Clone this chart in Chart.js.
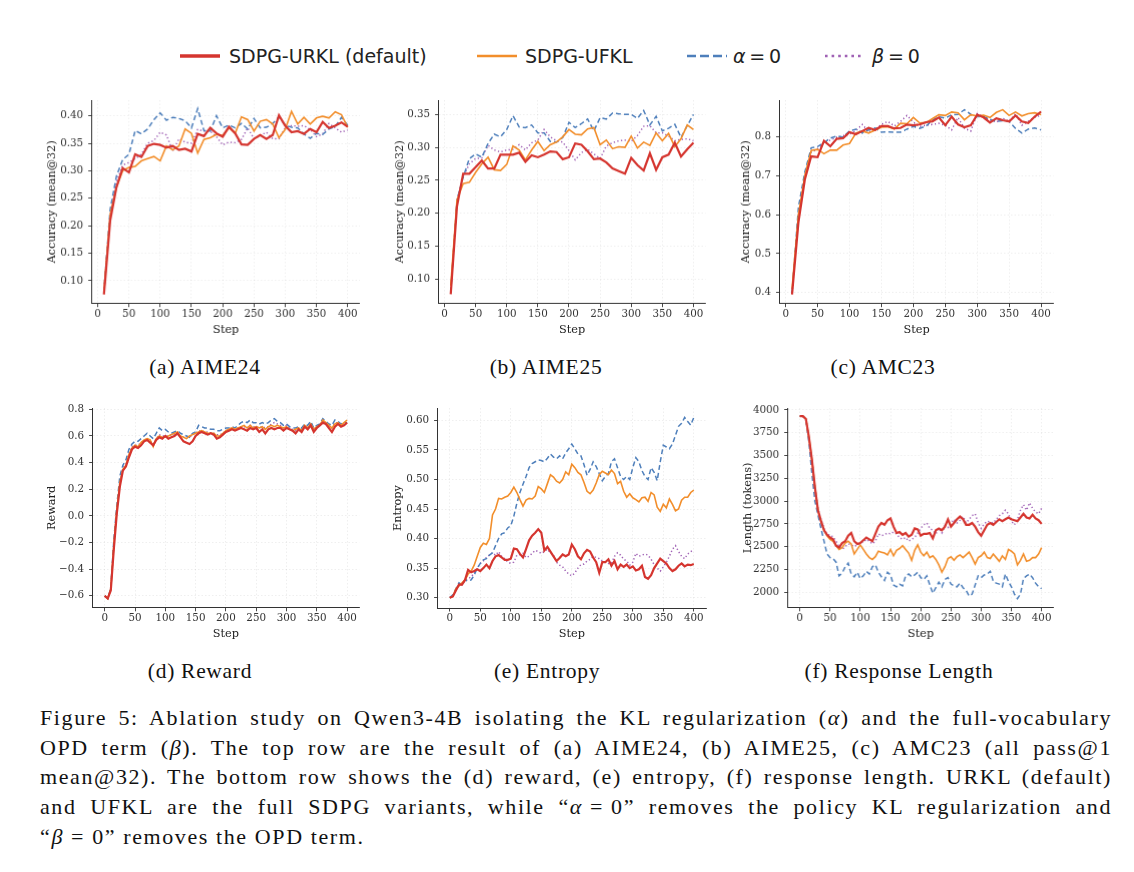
<!DOCTYPE html>
<html>
<head>
<meta charset="utf-8">
<script src="https://cdn.jsdelivr.net/npm/chart.js@4.4.1/dist/chart.umd.min.js"></script>
<style>
body { margin: 0; background: #fff; width: 1134px; height: 872px; position: relative; overflow: hidden; }
.panel { position: absolute; }
.sub { position: absolute; font-family: 'Liberation Serif', serif; font-size: 21.5px; color: #111; transform: translate(-50%, -50%); white-space: nowrap; letter-spacing: 0.7px; }
.lg { position: absolute; }
.lgt { position: absolute; font-family: 'DejaVu Sans', sans-serif; font-size: 19px; color: #222; transform: translateY(-50%); white-space: nowrap; }
#caption { position: absolute; left: 40px; top: 703px; width: 1072px; font-family: 'Liberation Serif', serif; font-size: 22px; color: #111; letter-spacing: 1.6px; }
#caption div { height: 29.7px; line-height: 29.7px; white-space: nowrap; }
#caption span.line { display: inline-block; }
</style>
</head>
<body>

<svg class="lg" style="left:180px;top:51px" width="40" height="10"><line x1="0" y1="5" x2="40" y2="5" stroke="#d5352f" stroke-width="3.4"/></svg>
<div class="lgt" style="left:229px;top:56px">SDPG-URKL (default)</div>
<svg class="lg" style="left:477px;top:51px" width="40" height="10"><line x1="0" y1="5" x2="40" y2="5" stroke="#f28e2b" stroke-width="2.6"/></svg>
<div class="lgt" style="left:525px;top:56px">SDPG-UFKL</div>
<svg class="lg" style="left:687px;top:51px" width="40" height="10"><line x1="0" y1="5" x2="40" y2="5" stroke="#4e7fbb" stroke-width="2.6" stroke-dasharray="9,4"/></svg>
<div class="lgt" style="left:733px;top:56px"><i>α</i>&#8201;=&#8201;0</div>
<svg class="lg" style="left:824px;top:51px" width="40" height="10"><line x1="1" y1="5" x2="40" y2="5" stroke="#a062b5" stroke-width="2.6" stroke-dasharray="2.6,4" /></svg>
<div class="lgt" style="left:872px;top:56px"><i>β</i>&#8201;=&#8201;0</div>

<div class="sub" style="left:205px;top:367px">(a) AIME24</div>
<div class="sub" style="left:546px;top:367px">(b) AIME25</div>
<div class="sub" style="left:883px;top:367px">(c) AMC23</div>
<div class="sub" style="left:200px;top:671px">(d) Reward</div>
<div class="sub" style="left:547px;top:671px">(e) Entropy</div>
<div class="sub" style="left:899px;top:671px">(f) Response Length</div>

<div id="caption">
  <div><span class="line">Figure 5: Ablation study on Qwen3-4B isolating the KL regularization (<i>α</i>) and the full-vocabulary</span></div>
  <div><span class="line">OPD term (<i>β</i>). The top row are the result of (a) AIME24, (b) AIME25, (c) AMC23 (all pass@1</span></div>
  <div><span class="line">mean@32). The bottom row shows the (d) reward, (e) entropy, (f) response length. URKL (default)</span></div>
  <div><span class="line">and UFKL are the full SDPG variants, while “<i>α</i>&#8197;=&#8197;0” removes the policy KL regularization and</span></div>
  <div><span class="last">“<i>β</i>&#8197;=&#8197;0” removes the OPD term.</span></div>
</div>

<script>
// x positions
const stepsTop = [10,20,30,40,50,60,70,80,90,100,110,120,130,140,150,160,170,180,190,200,
  210,220,230,240,250,260,270,280,290,300,310,320,330,340,350,360,370,380,390,400];
const stepsBottom = [0,5,10,15,20,25,30,35,40,45,50,55,60,65,70,75,80,85,90,95,
  100,105,110,115,120,125,130,135,140,145,150,155,160,165,170,175,180,185,190,195,
  200,205,210,215,220,225,230,235,240,245,250,255,260,265,270,275,280,285,290,295,
  300,305,310,315,320,325,330,335,340,345,350,355,360,365,370,375,380,385,390,395,400];
const xTickValues = [0,50,100,150,200,250,300,350,400];

const seriesNames = ['SDPG-URKL (default)', 'SDPG-UFKL', 'α = 0', 'β = 0'];

// (a) AIME24
const aime24Urkl = [0.075,0.21,0.27,0.305,0.297,0.33,0.325,0.345,0.349,0.347,
  0.342,0.345,0.338,0.340,0.335,0.367,0.363,0.378,0.368,0.362,
  0.380,0.368,0.348,0.347,0.358,0.365,0.358,0.365,0.401,0.382,
  0.370,0.372,0.367,0.376,0.370,0.389,0.378,0.382,0.388,0.380];
const aime24Ufkl = [0.08,0.22,0.27,0.30,0.306,0.308,0.318,0.322,0.326,0.318,
  0.345,0.338,0.345,0.376,0.368,0.332,0.357,0.360,0.366,0.364,
  0.378,0.368,0.398,0.393,0.372,0.390,0.393,0.385,0.360,0.375,
  0.408,0.385,0.397,0.385,0.396,0.399,0.396,0.407,0.402,0.379];
const aime24Alpha0 = [0.08,0.23,0.29,0.32,0.33,0.373,0.367,0.376,0.393,0.405,
  0.392,0.397,0.395,0.391,0.378,0.413,0.373,0.372,0.400,0.378,
  0.383,0.378,0.386,0.376,0.395,0.378,0.379,0.386,0.398,0.383,
  0.379,0.378,0.367,0.359,0.368,0.366,0.376,0.380,0.397,0.383];
const aime24Beta0 = [0.08,0.22,0.28,0.31,0.315,0.322,0.33,0.35,0.355,0.370,
  0.365,0.336,0.358,0.352,0.350,0.375,0.372,0.372,0.362,0.347,
  0.352,0.351,0.357,0.378,0.358,0.364,0.370,0.358,0.358,0.378,
  0.382,0.381,0.382,0.375,0.362,0.367,0.386,0.378,0.370,0.374];
const aime24YTicks = [0.10,0.15,0.20,0.25,0.30,0.35,0.40];
const aime24YLabels = ['0.10','0.15','0.20','0.25','0.30','0.35','0.40'];

// (b) AIME25
const aime25Urkl = [0.077,0.21,0.26,0.26,0.27,0.28,0.268,0.268,0.289,0.289,
  0.289,0.292,0.278,0.288,0.285,0.289,0.294,0.293,0.282,0.285,
  0.306,0.304,0.294,0.282,0.283,0.277,0.268,0.264,0.260,0.284,
  0.273,0.265,0.291,0.266,0.285,0.289,0.307,0.286,0.297,0.307];
const aime25Ufkl = [0.09,0.22,0.245,0.247,0.262,0.275,0.285,0.266,0.265,0.274,
  0.302,0.296,0.281,0.296,0.309,0.295,0.304,0.308,0.316,0.327,
  0.320,0.319,0.328,0.330,0.304,0.311,0.298,0.301,0.300,0.317,
  0.299,0.308,0.303,0.322,0.310,0.321,0.301,0.313,0.334,0.327];
const aime25Alpha0 = [0.08,0.22,0.255,0.283,0.29,0.285,0.306,0.320,0.316,0.327,
  0.348,0.331,0.330,0.334,0.322,0.322,0.309,0.308,0.315,0.338,
  0.330,0.336,0.343,0.325,0.345,0.343,0.352,0.351,0.350,0.350,
  0.344,0.356,0.334,0.347,0.325,0.329,0.335,0.315,0.333,0.350];
const aime25Beta0 = [0.08,0.22,0.255,0.275,0.283,0.284,0.303,0.296,0.293,0.296,
  0.297,0.304,0.296,0.307,0.311,0.327,0.316,0.310,0.308,0.295,
  0.281,0.292,0.297,0.290,0.283,0.302,0.307,0.310,0.311,0.309,
  0.318,0.332,0.333,0.322,0.322,0.317,0.310,0.312,0.313,0.310];
const aime25YTicks = [0.10,0.15,0.20,0.25,0.30,0.35];
const aime25YLabels = ['0.10','0.15','0.20','0.25','0.30','0.35'];

// (c) AMC23
const amc23Urkl = [0.395,0.58,0.69,0.75,0.748,0.79,0.776,0.795,0.797,0.812,
  0.807,0.815,0.823,0.818,0.828,0.828,0.822,0.823,0.832,0.830,
  0.832,0.838,0.840,0.850,0.830,0.852,0.832,0.825,0.830,0.857,
  0.850,0.837,0.848,0.843,0.840,0.855,0.840,0.836,0.852,0.865];
const amc23Ufkl = [0.41,0.60,0.70,0.765,0.768,0.757,0.766,0.766,0.779,0.783,
  0.810,0.815,0.810,0.817,0.825,0.826,0.820,0.835,0.834,0.850,
  0.836,0.837,0.847,0.857,0.855,0.864,0.862,0.844,0.857,0.854,
  0.856,0.850,0.863,0.870,0.855,0.864,0.854,0.860,0.862,0.857];
const amc23Alpha0 = [0.40,0.62,0.71,0.772,0.775,0.785,0.797,0.802,0.800,0.815,
  0.820,0.810,0.818,0.823,0.812,0.813,0.812,0.812,0.820,0.827,
  0.822,0.828,0.843,0.852,0.848,0.857,0.858,0.870,0.858,0.852,
  0.852,0.845,0.840,0.842,0.840,0.822,0.810,0.820,0.823,0.818];
const amc23Beta0 = [0.40,0.60,0.70,0.76,0.77,0.785,0.792,0.799,0.803,0.807,
  0.816,0.832,0.813,0.820,0.832,0.840,0.828,0.840,0.855,0.838,
  0.827,0.830,0.832,0.835,0.830,0.818,0.850,0.822,0.815,0.860,
  0.852,0.844,0.838,0.848,0.840,0.860,0.830,0.840,0.850,0.856];
const amc23YTicks = [0.4,0.5,0.6,0.7,0.8];
const amc23YLabels = ['0.4','0.5','0.6','0.7','0.8'];

// (d) Reward
const rewardUrkl = [-0.60,-0.62,-0.56,-0.25,0.02,0.22,0.34,0.37,0.44,0.50,
  0.52,0.51,0.53,0.56,0.57,0.55,0.53,0.57,0.59,0.58,
  0.60,0.58,0.59,0.60,0.62,0.59,0.56,0.55,0.54,0.56,
  0.60,0.62,0.63,0.62,0.61,0.62,0.61,0.58,0.59,0.61,
  0.63,0.64,0.65,0.64,0.65,0.66,0.65,0.64,0.66,0.65,
  0.66,0.63,0.65,0.62,0.65,0.66,0.65,0.66,0.66,0.64,
  0.66,0.65,0.64,0.62,0.65,0.63,0.67,0.65,0.68,0.63,
  0.66,0.68,0.70,0.69,0.66,0.63,0.67,0.69,0.67,0.68,0.70];
const rewardUfkl = [-0.60,-0.62,-0.55,-0.22,0.05,0.25,0.35,0.38,0.46,0.51,
  0.53,0.52,0.55,0.57,0.58,0.57,0.52,0.58,0.60,0.59,
  0.59,0.60,0.61,0.62,0.63,0.60,0.59,0.58,0.60,0.61,
  0.62,0.63,0.64,0.63,0.62,0.62,0.62,0.60,0.60,0.62,
  0.64,0.65,0.66,0.65,0.66,0.67,0.68,0.66,0.68,0.66,
  0.67,0.66,0.67,0.65,0.67,0.68,0.67,0.68,0.67,0.66,
  0.67,0.65,0.64,0.65,0.66,0.64,0.68,0.66,0.69,0.65,
  0.67,0.68,0.72,0.70,0.68,0.66,0.69,0.70,0.68,0.70,0.72];
const rewardAlpha0 = [-0.60,-0.62,-0.54,-0.18,0.08,0.30,0.38,0.42,0.50,0.54,
  0.56,0.56,0.58,0.60,0.62,0.60,0.58,0.62,0.66,0.64,
  0.65,0.63,0.62,0.63,0.64,0.62,0.61,0.60,0.59,0.62,
  0.63,0.68,0.67,0.66,0.66,0.65,0.65,0.64,0.64,0.65,
  0.66,0.66,0.67,0.66,0.68,0.70,0.71,0.70,0.72,0.70,
  0.70,0.69,0.70,0.69,0.70,0.72,0.73,0.71,0.70,0.68,
  0.69,0.67,0.66,0.66,0.67,0.66,0.69,0.68,0.71,0.66,
  0.68,0.69,0.73,0.71,0.69,0.68,0.72,0.71,0.69,0.70,0.70];
const rewardBeta0 = [-0.60,-0.62,-0.55,-0.22,0.04,0.25,0.36,0.39,0.47,0.52,
  0.53,0.53,0.55,0.57,0.58,0.56,0.54,0.58,0.61,0.60,
  0.60,0.60,0.61,0.61,0.62,0.60,0.59,0.59,0.59,0.61,
  0.62,0.64,0.64,0.63,0.63,0.62,0.62,0.61,0.61,0.62,
  0.64,0.65,0.66,0.65,0.66,0.67,0.67,0.66,0.68,0.67,
  0.67,0.66,0.67,0.66,0.67,0.69,0.70,0.69,0.68,0.66,
  0.68,0.66,0.65,0.64,0.66,0.65,0.68,0.67,0.70,0.65,
  0.67,0.69,0.71,0.70,0.68,0.66,0.70,0.70,0.68,0.69,0.71];
const rewardYTicks = [-0.6,-0.4,-0.2,0.0,0.2,0.4,0.6,0.8];
const rewardYLabels = ['\u22120.6','\u22120.4','\u22120.2','0.0','0.2','0.4','0.6','0.8'];

// (e) Entropy
const entropyUrkl = [0.300,0.302,0.312,0.322,0.322,0.330,0.347,0.343,0.345,0.348,
  0.345,0.350,0.356,0.350,0.362,0.370,0.372,0.368,0.364,0.364,
  0.366,0.383,0.382,0.374,0.368,0.382,0.397,0.405,0.410,0.416,
  0.410,0.380,0.386,0.378,0.370,0.362,0.367,0.373,0.370,0.373,
  0.390,0.382,0.370,0.365,0.375,0.381,0.378,0.368,0.360,0.342,
  0.360,0.360,0.365,0.354,0.362,0.348,0.356,0.352,0.356,0.350,
  0.353,0.346,0.348,0.354,0.335,0.332,0.338,0.350,0.358,0.366,
  0.362,0.358,0.350,0.345,0.348,0.354,0.358,0.353,0.356,0.355,0.357];
const entropyUfkl = [0.300,0.302,0.315,0.320,0.325,0.330,0.340,0.345,0.355,0.370,
  0.385,0.392,0.390,0.400,0.440,0.450,0.468,0.467,0.470,0.472,
  0.478,0.487,0.478,0.466,0.455,0.465,0.468,0.467,0.472,0.488,
  0.484,0.478,0.493,0.508,0.504,0.497,0.494,0.500,0.513,0.508,
  0.526,0.520,0.512,0.508,0.495,0.480,0.476,0.482,0.494,0.508,
  0.514,0.511,0.508,0.516,0.510,0.493,0.497,0.480,0.470,0.476,
  0.469,0.466,0.462,0.469,0.470,0.463,0.478,0.474,0.453,0.446,
  0.458,0.452,0.467,0.458,0.447,0.450,0.465,0.470,0.470,0.478,0.482];
const entropyAlpha0 = [0.300,0.305,0.315,0.325,0.322,0.330,0.328,0.330,0.338,0.350,
  0.358,0.364,0.366,0.372,0.376,0.388,0.400,0.408,0.410,0.418,
  0.422,0.438,0.460,0.478,0.492,0.505,0.520,0.527,0.530,0.533,
  0.532,0.530,0.536,0.543,0.538,0.535,0.540,0.535,0.545,0.552,
  0.560,0.552,0.543,0.540,0.525,0.507,0.517,0.530,0.522,0.510,
  0.498,0.505,0.510,0.530,0.535,0.520,0.505,0.500,0.505,0.500,
  0.520,0.537,0.530,0.515,0.505,0.500,0.520,0.512,0.498,0.530,
  0.558,0.555,0.552,0.560,0.575,0.590,0.595,0.605,0.598,0.592,0.605];
const entropyBeta0 = [0.300,0.303,0.315,0.322,0.322,0.330,0.332,0.335,0.342,0.350,
  0.358,0.362,0.368,0.372,0.376,0.372,0.378,0.370,0.366,0.360,
  0.358,0.360,0.372,0.373,0.375,0.368,0.370,0.375,0.380,0.378,
  0.375,0.378,0.382,0.376,0.372,0.360,0.355,0.352,0.345,0.340,
  0.337,0.342,0.350,0.356,0.357,0.362,0.365,0.370,0.368,0.366,
  0.362,0.360,0.358,0.358,0.370,0.376,0.372,0.365,0.362,0.355,
  0.360,0.375,0.370,0.372,0.374,0.372,0.365,0.356,0.350,0.345,
  0.352,0.360,0.370,0.382,0.388,0.378,0.370,0.366,0.374,0.378,0.381];
const entropyYTicks = [0.30,0.35,0.40,0.45,0.50,0.55,0.60];
const entropyYLabels = ['0.30','0.35','0.40','0.45','0.50','0.55','0.60'];

// (f) Response length
const lengthUrkl = [3930,3930,3900,3700,3450,3150,2900,2780,2680,2630,
  2600,2580,2510,2490,2540,2560,2620,2650,2560,2530,
  2540,2570,2600,2580,2560,2640,2720,2760,2740,2790,
  2810,2720,2650,2660,2630,2650,2610,2630,2700,2690,
  2620,2640,2640,2650,2590,2680,2700,2680,2720,2800,
  2720,2760,2800,2830,2800,2740,2740,2760,2720,2660,
  2620,2680,2740,2760,2740,2770,2800,2780,2800,2820,
  2800,2790,2780,2820,2860,2820,2810,2850,2810,2790,2750];
const lengthUfkl = [3930,3930,3900,3700,3450,3150,2900,2780,2680,2620,
  2580,2560,2510,2470,2490,2540,2560,2530,2420,2470,
  2520,2470,2420,2380,2360,2390,2450,2440,2430,2410,
  2470,2400,2460,2480,2510,2470,2430,2350,2460,2520,
  2440,2400,2440,2380,2400,2360,2300,2220,2280,2370,
  2390,2350,2390,2410,2380,2410,2440,2380,2310,2380,
  2400,2440,2380,2370,2420,2380,2340,2400,2360,2470,
  2450,2420,2300,2350,2420,2340,2350,2380,2380,2420,2490];
const lengthAlpha0 = [3930,3930,3880,3650,3300,3000,2850,2700,2560,2420,
  2380,2370,2330,2180,2210,2280,2320,2200,2170,2220,
  2150,2180,2230,2200,2280,2300,2220,2170,2130,2220,
  2190,2080,2060,2090,2070,2180,2200,2170,2190,2220,
  2160,2140,2180,2080,1990,2050,2110,2060,2140,2160,
  2090,2070,2060,2100,2050,2020,1960,1980,2080,2180,
  2160,2190,2200,2230,2120,2100,2090,2060,2200,2120,
  2060,1980,1930,1980,2150,2180,2200,2160,2100,2060,2040];
const lengthBeta0 = [3930,3930,3900,3700,3450,3150,2920,2800,2700,2640,
  2620,2610,2560,2500,2470,2500,2530,2520,2500,2520,
  2540,2550,2580,2560,2530,2560,2640,2620,2630,2650,
  2640,2660,2640,2600,2580,2600,2560,2580,2600,2650,
  2700,2740,2760,2700,2680,2640,2700,2650,2730,2710,
  2750,2800,2760,2790,2830,2760,2800,2840,2860,2760,
  2700,2750,2780,2770,2760,2800,2840,2860,2900,2860,
  2780,2740,2800,2900,2960,2900,2980,2920,2880,2860,2920];
const lengthYTicks = [2000,2250,2500,2750,3000,3250,3500,3750,4000];
const lengthYLabels = ['2000','2250','2500','2750','3000','3250','3500','3750','4000'];

const lineStyles = [
  { color: '#d5352f', width: 2.2, dash: [] },
  { color: '#f28e2b', width: 1.6, dash: [] },
  { color: '#4e7fbb', width: 1.5, dash: [5, 3] },
  { color: '#a062b5', width: 1.5, dash: [1.3, 2.4] }
];

const PAD_T = 12, PAD_R = 12, X_AXIS_H = 33;
const tickFont = { family: 'DejaVu Serif', size: 10.3 };
const titleFont = { family: 'DejaVu Serif', size: 11.3 };

// plot box = [left, top, right, bottom] of the axes area in page pixels
const panels = [
  { box: [91.7, 100, 359, 302.7], yAxisW: 46.6, steps: stepsTop, xMin: -9.5, xMax: 419.5,
    yMin: 0.0585, yMax: 0.4285, yTicks: aime24YTicks, yLabels: aime24YLabels, yTitle: 'Accuracy (mean@32)',
    series: [aime24Urkl, aime24Ufkl, aime24Alpha0, aime24Beta0] },
  { box: [438.4, 100, 705.4, 302.7], yAxisW: 45.6, steps: stepsTop, xMin: -9.5, xMax: 419.5,
    yMin: 0.0628, yMax: 0.3718, yTicks: aime25YTicks, yLabels: aime25YLabels, yTitle: 'Accuracy (mean@32)',
    series: [aime25Urkl, aime25Ufkl, aime25Alpha0, aime25Beta0] },
  { box: [779.2, 100, 1053.1, 302.7], yAxisW: 40.6, steps: stepsTop, xMin: -9.5, xMax: 419.5,
    yMin: 0.3716, yMax: 0.8947, yTicks: amc23YTicks, yLabels: amc23YLabels, yTitle: 'Accuracy (mean@32)',
    series: [amc23Urkl, amc23Ufkl, amc23Alpha0, amc23Beta0] },
  { box: [92.2, 407.5, 358.8, 607.3], yAxisW: 47.6, steps: stepsBottom, xMin: -20, xMax: 420,
    yMin: -0.69, yMax: 0.81, yTicks: rewardYTicks, yLabels: rewardYLabels, yTitle: 'Reward',
    series: [rewardUrkl, rewardUfkl, rewardAlpha0, rewardBeta0] },
  { box: [437.1, 407.5, 705.5, 607.5], yAxisW: 46.6, steps: stepsBottom, xMin: -20, xMax: 420,
    yMin: 0.2825, yMax: 0.621, yTicks: entropyYTicks, yLabels: entropyYLabels, yTitle: 'Entropy',
    series: [entropyUrkl, entropyUfkl, entropyAlpha0, entropyBeta0] },
  { box: [787.6, 407.5, 1052.7, 607.3], yAxisW: 46.6, steps: stepsBottom, xMin: -20, xMax: 420,
    yMin: 1830, yMax: 4020, yTicks: lengthYTicks, yLabels: lengthYLabels, yTitle: 'Length (tokens)',
    series: [lengthUrkl, lengthUfkl, lengthAlpha0, lengthBeta0] }
];

function axisCommon() {
  return {
    grid: { color: 'rgba(0,0,0,0.09)', lineWidth: 0.7, tickColor: '#333', tickLength: 3.5, tickWidth: 0.9 },
    border: { color: '#333', width: 1, dash: [1.5, 2] }
  };
}

function makePanel(p, idx) {
  const [L, T, R, B] = p.box;
  const wrap = document.createElement('div');
  wrap.className = 'panel';
  const w = R - L + p.yAxisW + PAD_R;
  const h = B - T + PAD_T + X_AXIS_H;
  wrap.style.left = (L - p.yAxisW) + 'px';
  wrap.style.top = (T - PAD_T) + 'px';
  wrap.style.width = w + 'px';
  wrap.style.height = h + 'px';
  const canvas = document.createElement('canvas');
  canvas.id = 'panel' + idx;
  wrap.appendChild(canvas);
  document.body.appendChild(wrap);

  const datasets = p.series.map((vals, i) => ({
    label: seriesNames[i],
    data: p.steps.map((s, j) => ({ x: s, y: vals[j] })),
    borderColor: lineStyles[i].color,
    borderWidth: lineStyles[i].width,
    borderDash: lineStyles[i].dash,
    pointRadius: 0,
    tension: 0,
    fill: false
  }));

  new Chart(canvas.getContext('2d'), {
    type: 'line',
    data: { datasets: datasets },
    options: {
      responsive: true,
      maintainAspectRatio: false,
      animation: false,
      layout: { padding: { top: PAD_T, right: PAD_R, left: 0, bottom: 0 } },
      plugins: { legend: { display: false }, tooltip: { enabled: false } },
      scales: {
        x: Object.assign(axisCommon(), {
          type: 'linear', min: p.xMin, max: p.xMax,
          afterBuildTicks: s => { s.ticks = xTickValues.map(v => ({ value: v })); },
          afterFit: s => { s.height = X_AXIS_H; },
          ticks: { font: tickFont, color: '#333', padding: 1, maxRotation: 0, autoSkip: false,
                   callback: v => String(v) },
          title: { display: true, text: 'Step', font: titleFont, color: '#222', padding: 0 }
        }),
        y: Object.assign(axisCommon(), {
          type: 'linear', min: p.yMin, max: p.yMax,
          afterBuildTicks: s => { s.ticks = p.yTicks.map(v => ({ value: v })); },
          afterFit: s => { s.width = p.yAxisW; },
          ticks: { font: tickFont, color: '#333', padding: 5, autoSkip: false,
                   callback: (v, i) => p.yLabels[i] },
          title: { display: true, text: p.yTitle, font: titleFont, color: '#222', padding: 0 }
        })
      }
    }
  });
}

panels.forEach(makePanel);

// justify caption lines to the full text width
const CAPTION_W = 1072;
document.querySelectorAll('#caption span.line').forEach(span => {
  const spaces = (span.textContent.match(/ /g) || []).length;
  const extra = CAPTION_W - span.getBoundingClientRect().width;
  span.style.wordSpacing = (extra / spaces) + 'px';
});
</script>
</body>
</html>
